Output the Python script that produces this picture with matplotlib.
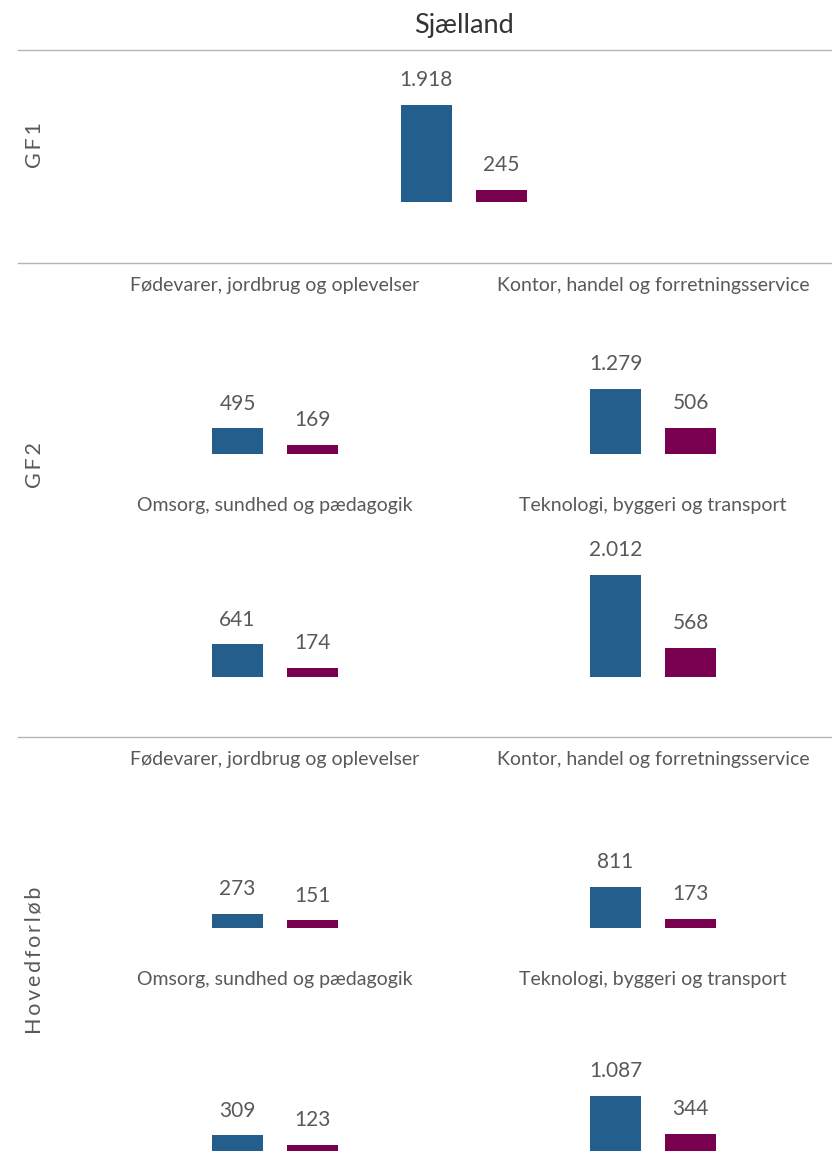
import matplotlib.pyplot as plt
from matplotlib.lines import Line2D

plt.rcParams['font.family'] = ['Lato', 'DejaVu Sans']

# --- data ---
title = "Sjælland"
row_labels = ["G\u2009F\u20091", "G\u2009F\u20092", "H\u2009o\u2009v\u2009e\u2009d\u2009f\u2009o\u2009r\u2009l\u2009ø\u2009b"]
categories = ["Fødevarer, jordbrug og oplevelser",
              "Kontor, handel og forretningsservice",
              "Omsorg, sundhed og pædagogik",
              "Teknologi, byggeri og transport"]
gf1_blue = [1918]
gf1_purple = [245]
gf2_blue = [495, 1279, 641, 2012]
gf2_purple = [169, 506, 174, 568]
hf_blue = [273, 811, 309, 1087]
hf_purple = [151, 173, 123, 344]

BLUE = '#245E8C'
PURPLE = '#78004F'
TXT = '#595959'
LINE = '#B4B4B4'

W, H = 832, 1175
fig = plt.figure(figsize=(W / 100, H / 100), dpi=100)

PX_PER_UNIT = 0.0508   # bar pixels per value unit (shared scale)
PAN_W, PAN_H = 300, 150


def fx(x):
    return x / W


def fy(y):
    return 1 - y / H


def panel(cx, base, blue, purple):
    ax = fig.add_axes([fx(cx - PAN_W / 2), fy(base), PAN_W / W, PAN_H / H])
    bars = ax.bar([0, 1], [blue, purple], width=0.68, color=[BLUE, PURPLE])
    half = PAN_W / 2 / 75
    ax.set_xlim(0.5 - half, 0.5 + half)
    ax.set_ylim(0, PAN_H / PX_PER_UNIT)
    for b, v in zip(bars, [blue, purple]):
        ax.annotate(f"{v:,}".replace(",", "."), (b.get_x() + b.get_width() / 2, v),
                    xytext=(0, 13.5), textcoords='offset points',
                    ha='center', va='baseline', fontsize=15, color=TXT)
    ax.axis('off')
    ax.patch.set_alpha(0)


# title and separators
fig.text(fx(464), fy(25), title, ha='center', va='center', fontsize=19.5, color='#333333')
for y in [50, 263, 737]:
    fig.add_artist(Line2D([fx(18), fx(832)], [fy(y), fy(y)], color=LINE, lw=1))

# row labels
for lab, y in zip(row_labels, [145, 465, 960]):
    fig.text(fx(35), fy(y), lab, rotation=90, ha='center', va='center', fontsize=15.5, color=TXT)

# GF1
panel(463.5, 202, gf1_blue[0], gf1_purple[0])

col_x = [275, 653, 275, 653]
# GF2
for i in range(4):
    base = 453.5 if i < 2 else 677
    sub_y = 285 if i < 2 else 506
    fig.text(fx(col_x[i]), fy(sub_y), categories[i], ha='center', va='center', fontsize=14, color=TXT)
    panel(col_x[i], base, gf2_blue[i], gf2_purple[i])

# Hovedforløb
for i in range(4):
    base = 928 if i < 2 else 1151
    sub_y = 759 if i < 2 else 980
    fig.text(fx(col_x[i]), fy(sub_y), categories[i], ha='center', va='center', fontsize=14, color=TXT)
    panel(col_x[i], base, hf_blue[i], hf_purple[i])

fig.savefig('out.png', dpi=100)
